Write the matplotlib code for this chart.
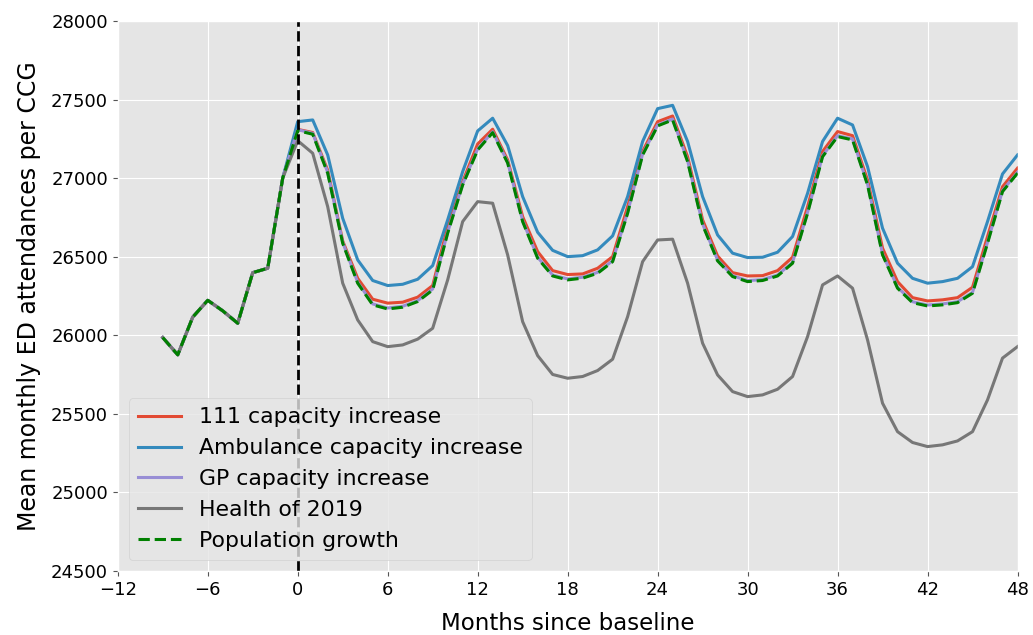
import matplotlib
matplotlib.use('Agg')
import matplotlib.pyplot as plt

plt.style.use('ggplot')

# months since baseline
hist_months = list(range(-9, 0))
hist_vals = [25985, 25875, 26115, 26222, 26155, 26076, 26398, 26426, 27000]

months = list(range(0, 49))

ambulance = [27359, 27370, 27147, 26744, 26479, 26348, 26316, 26324, 26356, 26443,
             26734, 27041, 27300, 27381, 27207, 26882, 26655, 26540, 26500, 26506,
             26543, 26632, 26882, 27233, 27442, 27463, 27233, 26882, 26638, 26522,
             26494, 26496, 26528, 26628, 26903, 27233, 27381, 27338, 27073, 26681,
             26458, 26362, 26331, 26341, 26362, 26436, 26723, 27026, 27147]

cap111 = [27310, 27290, 27050, 26600, 26362, 26229, 26204, 26210, 26242, 26316,
          26691, 26977, 27217, 27311, 27115, 26755, 26532, 26411, 26386, 26390,
          26426, 26500, 26818, 27169, 27359, 27395, 27136, 26734, 26504, 26398,
          26377, 26379, 26411, 26496, 26818, 27169, 27296, 27270, 26988, 26554,
          26341, 26239, 26218, 26225, 26239, 26305, 26628, 26945, 27063]

popgrowth = [27302, 27279, 27031, 26585, 26331, 26193, 26167, 26178, 26214, 26288,
             26649, 26956, 27179, 27289, 27096, 26723, 26490, 26377, 26352, 26363,
             26394, 26468, 26776, 27147, 27332, 27370, 27105, 26702, 26473, 26373,
             26341, 26348, 26377, 26458, 26776, 27136, 27264, 27243, 26956, 26511,
             26299, 26207, 26186, 26193, 26207, 26267, 26585, 26914, 27031]

gp = [v + 6 for v in popgrowth]

health2019 = [27238, 27158, 26818, 26331, 26097, 25959, 25927, 25938, 25975, 26044,
              26352, 26723, 26850, 26840, 26511, 26086, 25870, 25750, 25726, 25737,
              25775, 25847, 26118, 26468, 26606, 26611, 26331, 25949, 25747, 25641,
              25609, 25620, 25656, 25737, 25991, 26320, 26377, 26299, 25970, 25567,
              25386, 25317, 25291, 25302, 25327, 25386, 25588, 25854, 25927]

x_all = hist_months + months

fig = plt.figure(figsize=(10.33, 6.35), dpi=100)
ax = fig.add_axes([0.114, 0.101, 0.871, 0.866])

ax.plot(x_all, hist_vals + cap111, label='111 capacity increase', lw=2.2)
ax.plot(x_all, hist_vals + ambulance, label='Ambulance capacity increase', lw=2.2)
ax.plot(x_all, hist_vals + gp, label='GP capacity increase', lw=2.2)
ax.plot(x_all, hist_vals + health2019, label='Health of 2019', lw=2.2)
ax.plot(x_all, hist_vals + popgrowth, 'g--', label='Population growth', lw=2.2)

ax.axvline(0, color='k', ls='--', lw=2)

ax.set_xlim(-12, 48)
ax.set_ylim(24500, 28000)
ax.set_xticks(range(-12, 49, 6))
ax.tick_params(labelsize=13, labelcolor='black')
ax.set_xlabel('Months since baseline', fontsize=16.5, color='black', labelpad=10)
ax.set_ylabel('Mean monthly ED attendances per CCG', fontsize=17, color='black', labelpad=7)

ax.legend(loc='lower left', fontsize=15.8)

plt.savefig('out.png', dpi=100)
